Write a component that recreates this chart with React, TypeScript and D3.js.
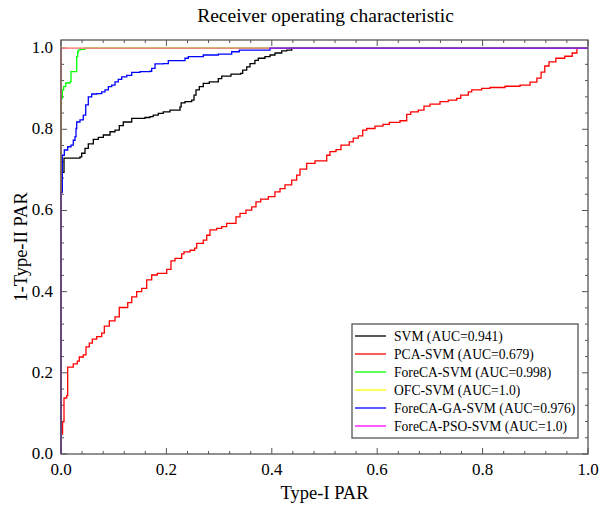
import { useEffect, useRef } from 'react';
import * as d3 from 'd3';

// ROC points [fpr, tpr]
const svmRoc: [number, number][] = [
  [0, 0], [0, 0.645], [0.002, 0.694], [0.0057, 0.729], [0.036, 0.732], [0.0393, 0.741], [0.0455, 0.753],
  [0.0518, 0.764], [0.0613, 0.775], [0.0708, 0.78], [0.0803, 0.786], [0.093, 0.794], [0.1025, 0.798],
  [0.1106, 0.809], [0.1182, 0.818], [0.1342, 0.827], [0.1594, 0.829], [0.1689, 0.831], [0.175, 0.835],
  [0.1846, 0.839], [0.194, 0.843], [0.2068, 0.847], [0.2258, 0.855], [0.228, 0.865], [0.2353, 0.868],
  [0.248, 0.872], [0.2524, 0.884], [0.2562, 0.897], [0.2624, 0.905], [0.27, 0.913], [0.2814, 0.917],
  [0.2985, 0.925], [0.305, 0.931], [0.3226, 0.936], [0.341, 0.938], [0.3448, 0.946], [0.3524, 0.954],
  [0.3586, 0.962], [0.368, 0.97], [0.3744, 0.975], [0.387, 0.979], [0.3966, 0.983], [0.4061, 0.988],
  [0.4188, 0.993], [0.4283, 0.995], [0.4378, 1.0], [1, 1],
];

const pcaSvmRoc: [number, number][] = [
  [0, 0.049], [0.003, 0.079], [0.0057, 0.138], [0.0108, 0.144], [0.0127, 0.214], [0.0233, 0.222],
  [0.031, 0.229], [0.0347, 0.239], [0.0423, 0.244], [0.0474, 0.264], [0.0537, 0.273], [0.0594, 0.283],
  [0.0677, 0.289], [0.0772, 0.298], [0.0822, 0.315], [0.0917, 0.328], [0.1025, 0.338], [0.1106, 0.361],
  [0.1266, 0.373], [0.1342, 0.387], [0.1436, 0.4], [0.1531, 0.408], [0.1626, 0.429], [0.1721, 0.441],
  [0.1827, 0.445], [0.2006, 0.455], [0.2087, 0.476], [0.2163, 0.482], [0.229, 0.493], [0.2334, 0.498],
  [0.2448, 0.502], [0.2536, 0.507], [0.2575, 0.519], [0.27, 0.527], [0.2765, 0.539], [0.2827, 0.552],
  [0.2954, 0.556], [0.305, 0.56], [0.3144, 0.568], [0.332, 0.584], [0.3397, 0.593], [0.351, 0.601],
  [0.3619, 0.609], [0.37, 0.621], [0.379, 0.628], [0.3934, 0.634], [0.406, 0.646], [0.4156, 0.654],
  [0.425, 0.663], [0.4378, 0.675], [0.4472, 0.687], [0.4535, 0.702], [0.4662, 0.716], [0.482, 0.722],
  [0.5042, 0.736], [0.5104, 0.745], [0.5218, 0.75], [0.5313, 0.761], [0.547, 0.769], [0.5546, 0.778],
  [0.5641, 0.784], [0.5725, 0.798], [0.5801, 0.802], [0.5958, 0.808], [0.611, 0.812], [0.623, 0.817],
  [0.6433, 0.821], [0.656, 0.837], [0.6636, 0.843], [0.678, 0.847], [0.6888, 0.857], [0.7002, 0.862],
  [0.7192, 0.868], [0.7349, 0.872], [0.7509, 0.876], [0.7585, 0.884], [0.7729, 0.892], [0.7793, 0.897],
  [0.7983, 0.901], [0.814, 0.903], [0.8425, 0.906], [0.871, 0.909], [0.89, 0.916], [0.903, 0.926],
  [0.911, 0.941], [0.918, 0.956], [0.926, 0.966], [0.939, 0.975], [0.956, 0.98], [0.97, 0.988],
  [0.979, 1.0], [1, 1],
];

const foreCaSvmRoc: [number, number][] = [
  [0, 0], [0, 0.876], [0.0025, 0.897], [0.005, 0.905], [0.009, 0.914], [0.0171, 0.917], [0.019, 0.942],
  [0.0298, 0.979], [0.0317, 0.991], [0.0328, 0.995], [0.036, 0.997], [0.0455, 1.0], [1, 1],
];

const ofcSvmRoc: [number, number][] = [[0, 0], [0, 1], [1, 1]];

const gaSvmRoc: [number, number][] = [
  [0, 0], [0, 0.645], [0.0025, 0.736], [0.0063, 0.749], [0.0127, 0.757], [0.019, 0.761], [0.0233, 0.773],
  [0.0266, 0.782], [0.0285, 0.802], [0.0298, 0.818], [0.036, 0.823], [0.0423, 0.835], [0.0469, 0.86],
  [0.0518, 0.88], [0.0583, 0.887], [0.0677, 0.888], [0.0772, 0.892], [0.0835, 0.897], [0.0898, 0.905],
  [0.0962, 0.909], [0.1025, 0.917], [0.1087, 0.923], [0.1152, 0.929], [0.1247, 0.933], [0.1342, 0.94],
  [0.1499, 0.942], [0.1689, 0.943], [0.1721, 0.95], [0.1784, 0.961], [0.1941, 0.962], [0.2036, 0.969],
  [0.2353, 0.975], [0.2416, 0.979], [0.27, 0.983], [0.2985, 0.985], [0.3239, 0.991], [0.3383, 0.995],
  [0.3966, 1.0], [1, 1],
];

const psoSvmRoc: [number, number][] = [[0, 0], [0, 1], [1, 1]];

const seriesNames = [
  'SVM (AUC=0.941)',
  'PCA-SVM (AUC=0.679)',
  'ForeCA-SVM (AUC=0.998)',
  'OFC-SVM (AUC=1.0)',
  'ForeCA-GA-SVM (AUC=0.976)',
  'ForeCA-PSO-SVM (AUC=1.0)',
];
const seriesData = [svmRoc, pcaSvmRoc, foreCaSvmRoc, ofcSvmRoc, gaSvmRoc, psoSvmRoc];
const seriesColors = ['#000000', '#ff0000', '#00ff00', '#ffff00', '#0000ff', '#ff00ff'];

const majorTicks = [0, 0.2, 0.4, 0.6, 0.8, 1.0];

const App = () => {
  const svgRef = useRef<SVGSVGElement>(null);

  useEffect(() => {
    const width = 599;
    const height = 511;
    const left = 61, right = 588, top = 40, bottom = 454;
    const font = '"Liberation Serif", "Times New Roman", serif';

    const svg = d3.select(svgRef.current);
    svg.selectAll('*').remove();
    svg.attr('width', width).attr('height', height);

    svg.append('rect').attr('width', width).attr('height', height).attr('fill', '#fff');

    const x = d3.scaleLinear().domain([0, 1]).range([left, right]);
    const y = d3.scaleLinear().domain([0, 1.02]).range([bottom, top]);

    const minorTicks = d3.range(0, 1.0001, 0.04);
    const axisColor = '#555';

    // ticks, inward on all four sides
    const tickG = svg.append('g').attr('stroke', axisColor).attr('stroke-width', 1);
    minorTicks.forEach(t => {
      const isMajor = majorTicks.some(m => Math.abs(m - t) < 1e-6);
      const len = isMajor ? 6 : 3;
      tickG.append('line').attr('x1', x(t)).attr('x2', x(t)).attr('y1', bottom).attr('y2', bottom - len);
      tickG.append('line').attr('x1', x(t)).attr('x2', x(t)).attr('y1', top).attr('y2', top + len);
      tickG.append('line').attr('y1', y(t)).attr('y2', y(t)).attr('x1', left).attr('x2', left + len);
      tickG.append('line').attr('y1', y(t)).attr('y2', y(t)).attr('x1', right).attr('x2', right - len);
    });

    // curves
    const line = d3.line<[number, number]>()
      .x(d => x(d[0]))
      .y(d => y(d[1]))
      .curve(d3.curveStepAfter);

    seriesData.forEach((data, i) => {
      svg.append('path')
        .datum(data)
        .attr('d', line)
        .attr('fill', 'none')
        .attr('stroke', seriesColors[i])
        .attr('stroke-width', 1.3)
        .attr('stroke-opacity', i === 5 ? 0.6 : 1);
    });

    // frame
    svg.append('rect')
      .attr('x', left).attr('y', top)
      .attr('width', right - left).attr('height', bottom - top)
      .attr('fill', 'none').attr('stroke', axisColor).attr('stroke-width', 1.3);

    // tick labels
    majorTicks.forEach(t => {
      svg.append('text')
        .attr('x', x(t)).attr('y', bottom + 21)
        .attr('text-anchor', 'middle')
        .style('font-family', font).style('font-size', '17px')
        .text(t.toFixed(1));
      svg.append('text')
        .attr('x', left - 8).attr('y', y(t) + 5)
        .attr('text-anchor', 'end')
        .style('font-family', font).style('font-size', '17px')
        .text(t.toFixed(1));
    });

    // title and axis labels
    svg.append('text')
      .attr('x', (left + right) / 2 + 1).attr('y', 22)
      .attr('text-anchor', 'middle')
      .style('font-family', font).style('font-size', '19.5px')
      .text('Receiver operating characteristic');

    svg.append('text')
      .attr('x', (left + right) / 2).attr('y', 499)
      .attr('text-anchor', 'middle')
      .style('font-family', font).style('font-size', '18.5px')
      .text('Type-I PAR');

    svg.append('text')
      .attr('transform', `translate(27, ${(top + bottom) / 2}) rotate(-90)`)
      .attr('text-anchor', 'middle')
      .style('font-family', font).style('font-size', '18.5px')
      .text('1-Type-II PAR');

    // legend
    const legend = svg.append('g');
    legend.append('rect')
      .attr('x', 352).attr('y', 324).attr('width', 226).attr('height', 114)
      .attr('fill', '#fff').attr('stroke', axisColor).attr('stroke-width', 1.3);

    seriesNames.forEach((name, i) => {
      const ly = 336 + i * 18;
      legend.append('line')
        .attr('x1', 355).attr('x2', 386).attr('y1', ly).attr('y2', ly)
        .attr('stroke', seriesColors[i]).attr('stroke-width', 1.3);
      legend.append('text')
        .attr('x', 394).attr('y', ly + 5)
        .style('font-family', font).style('font-size', '13.6px')
        .text(name);
    });
  }, []);

  return (
    <svg ref={svgRef} style={{ position: 'absolute', left: 0, top: 0 }}></svg>
  );
};

export default App;
